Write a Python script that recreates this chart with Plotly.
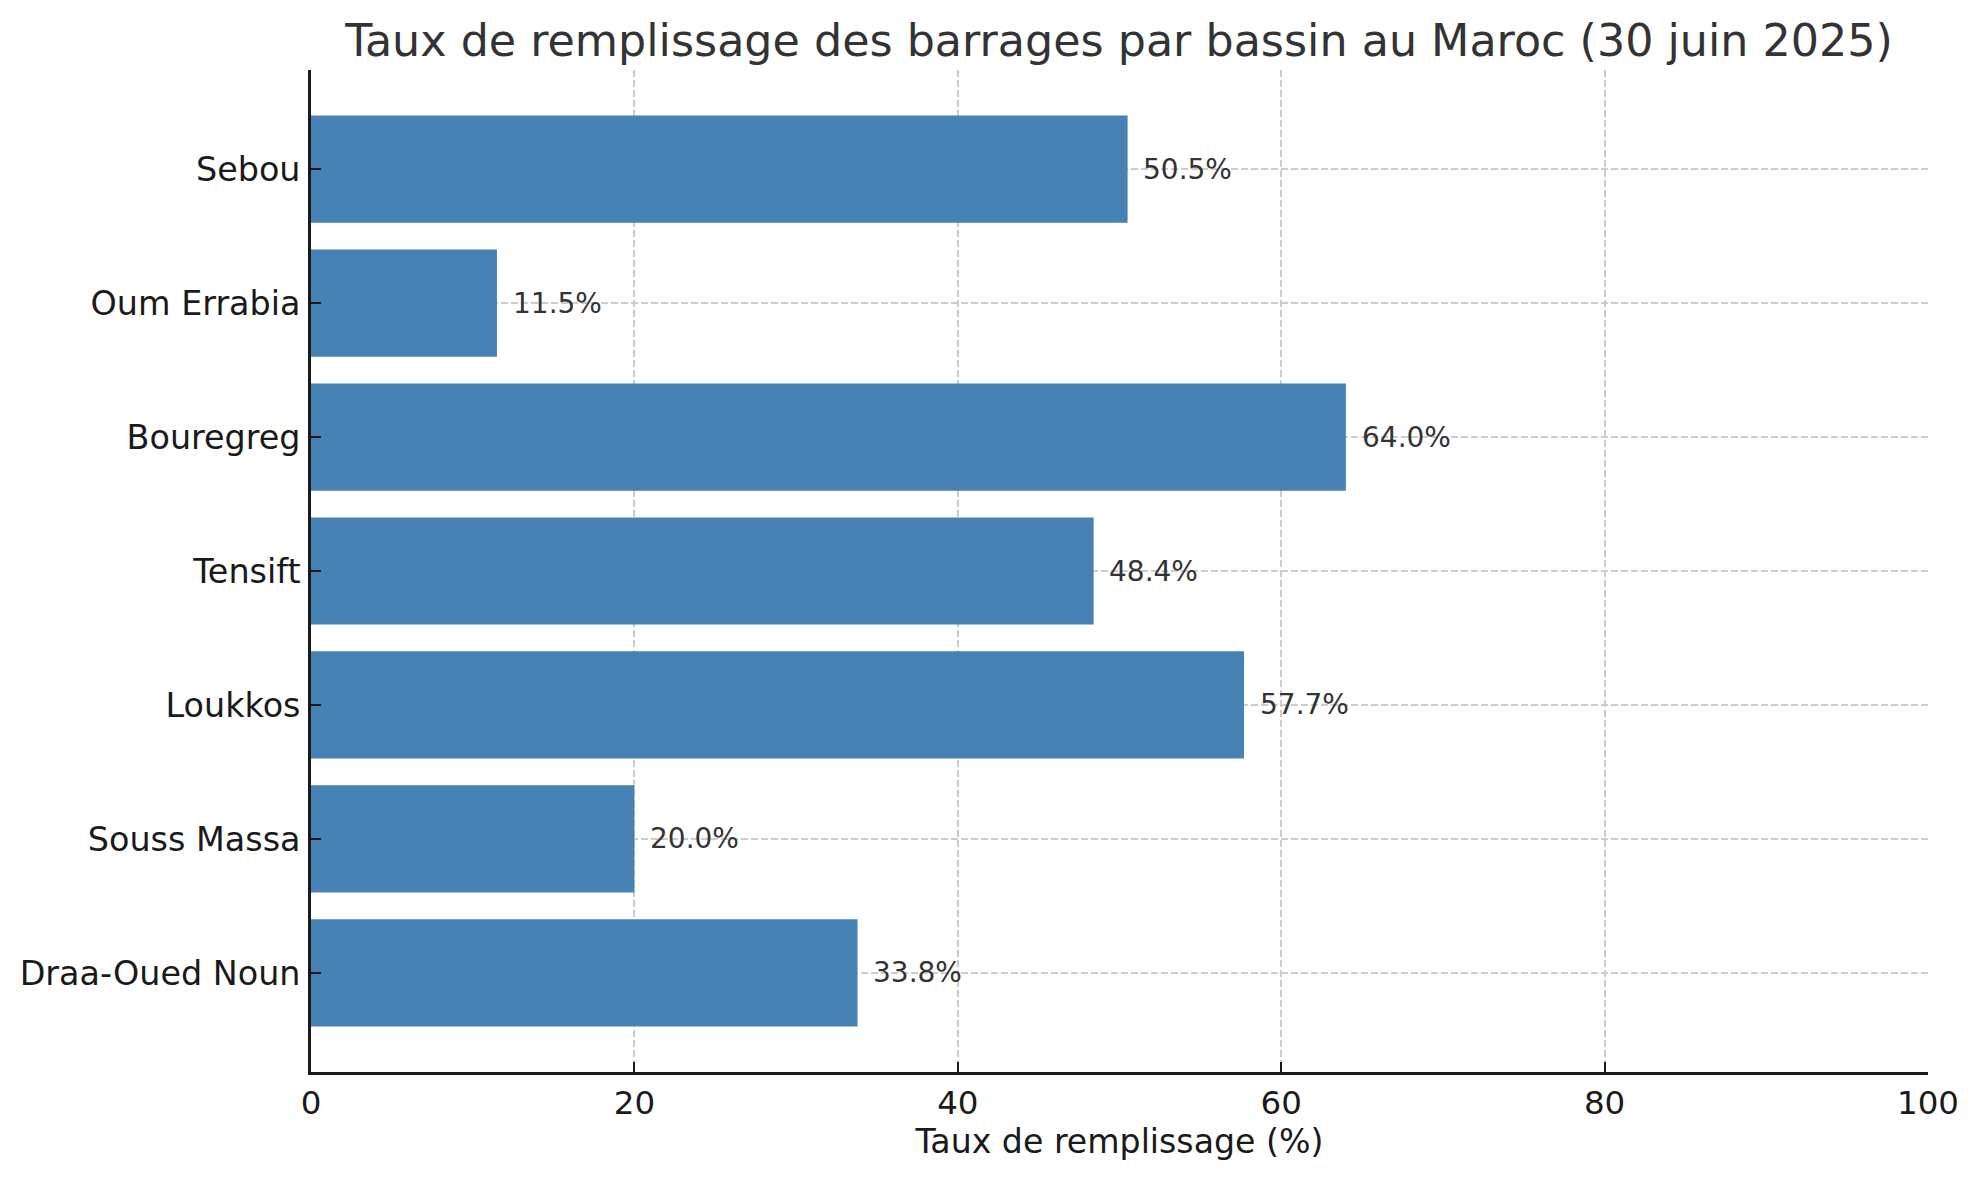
import plotly.graph_objects as go

bassins = ["Sebou", "Oum Errabia", "Bouregreg", "Tensift", "Loukkos", "Souss Massa", "Draa-Oued Noun"]
taux = [50.5, 11.5, 64.0, 48.4, 57.7, 20.0, 33.8]
x_ticks = [0, 20, 40, 60, 80, 100]

title_text = "Taux de remplissage des barrages par bassin au Maroc (30 juin 2025)"
x_label = "Taux de remplissage (%)"

FONT = "DejaVu Sans"

fig = go.Figure()
fig.add_trace(go.Bar(
    x=taux,
    y=bassins,
    orientation="h",
    width=0.8,
    marker=dict(color="#4682B4", line=dict(width=0)),
    hoverinfo="x+y",
))

for b, v in zip(bassins, taux):
    fig.add_annotation(
        x=v + 1, y=b, text=f"{v:.1f}%", showarrow=False,
        xanchor="left", yanchor="middle", xshift=-2.5,
        font=dict(family=FONT, size=28, color="#333333"),
    )

fig.update_layout(
    width=1979, height=1180,
    margin=dict(l=311, r=51, t=70, b=108),
    paper_bgcolor="white", plot_bgcolor="white",
    showlegend=False,
    bargap=0.2,
    title=dict(
        text=title_text, x=(310 + 1928) / 2 / 1979, xanchor="center",
        y=1 - 40 / 1180, yanchor="middle", yref="container",
        font=dict(family=FONT, size=44.4, color="#333333"),
    ),
    font=dict(family=FONT),
)

fig.update_xaxes(
    range=[0, 100], tickvals=x_ticks, ticktext=[str(t) for t in x_ticks],
    showgrid=True, gridcolor="#cccccc", gridwidth=1.5, griddash="7px,3px",
    showline=True, linecolor="#1a1a1a", linewidth=2.6, mirror=False,
    ticks="inside", ticklen=10, tickwidth=2, tickcolor="#1a1a1a",
    tickfont=dict(family=FONT, size=32.5, color="#1a1a1a"),
    title=dict(text=x_label, font=dict(family=FONT, size=33.2, color="#1a1a1a"), standoff=9),
    zeroline=False, layer="above traces",
)
fig.update_yaxes(
    type="category", categoryorder="array", categoryarray=bassins[::-1],
    range=[-0.74, 6.74],
    showgrid=True, gridcolor="#cccccc", gridwidth=1.5, griddash="7px,3px",
    showline=True, linecolor="#1a1a1a", linewidth=2.6, mirror=False,
    ticks="inside", ticklen=10, tickwidth=2, tickcolor="#1a1a1a",
    tickfont=dict(family=FONT, size=33.4, color="#1a1a1a"),
    ticklabelstandoff=1,
    zeroline=False, layer="above traces",
)

fig.write_html("out.html")
